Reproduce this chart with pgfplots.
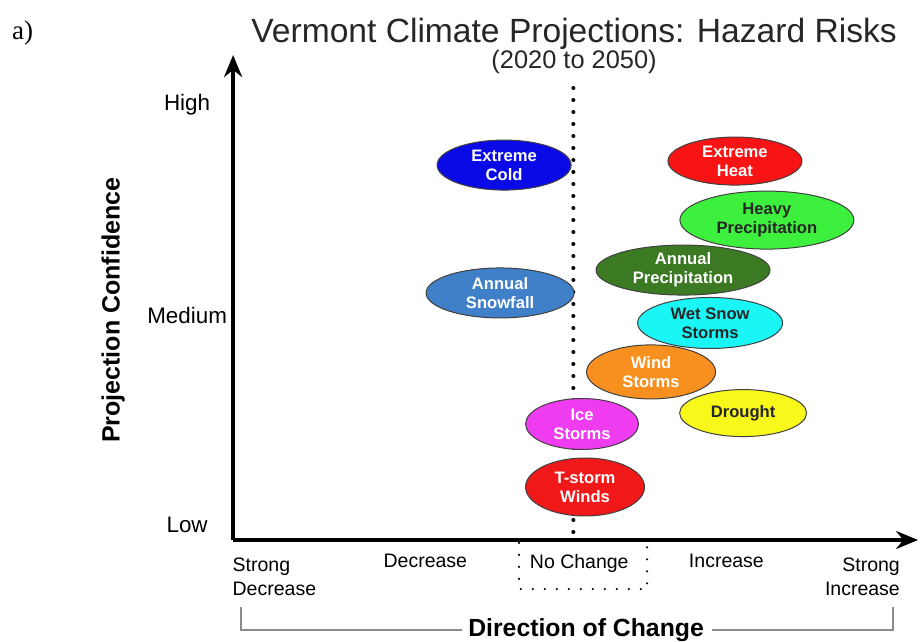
\documentclass[border=0pt]{standalone}
\usepackage{pgfplots}
\pgfplotsset{compat=1.18}
\usepackage{fontspec}
\setmainfont{Liberation Sans}
\newfontfamily\timesfont{Liberation Serif}
\usetikzlibrary{shapes.geometric,arrows.meta}

\definecolor{cold}{HTML}{0A0AE6}
\definecolor{heat}{HTML}{F81414}
\definecolor{heavy}{HTML}{3EF03E}
\definecolor{annprecip}{HTML}{3B7A23}
\definecolor{snowfall}{HTML}{3F80C8}
\definecolor{wetsnow}{HTML}{1AF5F5}
\definecolor{wind}{HTML}{F7901E}
\definecolor{drought}{HTML}{F8F81A}
\definecolor{ice}{HTML}{F03CF0}
\definecolor{tstorm}{HTML}{F01818}

% one hazard: x, y, width, height, fill, text colour, label
\newcommand{\hazard}[7]{%
  \addplot[only marks, mark=none,
    nodes near coords={#7},
    every node near coord/.append style={ellipse, draw=black!75, line width=0.5pt,
      fill=#5, text=#6, minimum width=#3, minimum height=#4, inner sep=0pt,
      align=center, anchor=center, font=\fontsize{8.3}{9.5}\selectfont\bfseries}]
    coordinates {(#1,#2)};}

\begin{document}
\begin{tikzpicture}
\begin{axis}[
  scale only axis,
  x=74pt, y=105pt,
  xmin=-0.299, xmax=4.329, ymin=-0.0714, ymax=2.238,
  clip=false,
  axis lines=left,
  axis line style={line width=1.8pt, -{Stealth[length=11pt,width=9pt]}},
  major tick length=0pt,
  tick style={draw=none},
  xtick={-0.02,1,2.04,3.034,3.953},
  xticklabels={{\begin{tabular}{@{}l@{}}Strong\\Decrease\end{tabular}},Decrease,No Change,Increase,{\begin{tabular}{@{}r@{}}Strong\\Increase\end{tabular}}},
  xticklabel style={anchor=north, inner sep=0pt, yshift=-7pt, font=\fontsize{9.75}{12}\selectfont},
  ytick={0,1,2},
  yticklabels={Low,Medium,High},
  yticklabel style={anchor=center, inner sep=0pt, xshift=-23pt, font=\fontsize{11.2}{13}\selectfont},
  ylabel={Projection Confidence},
  ylabel style={at={(rel axis cs:-0.175,0.474)}, anchor=center, font=\fontsize{12.5}{14}\selectfont\bfseries},
]
% no-change line and box
\draw[line width=2pt, dash pattern=on 0pt off 6pt, line cap=round] (axis cs:2,2.081) -- (axis cs:2,-0.0714);
\draw[line width=1.2pt, dash pattern=on 0pt off 6pt, line cap=round]
  (axis cs:1.633,-0.085) -- (axis cs:1.633,-0.305) -- (axis cs:2.498,-0.305) -- (axis cs:2.498,-0.085);

\hazard{1.532}{1.714}{67pt}{25pt}{cold}{white}{Extreme\\Cold}
\hazard{3.092}{1.733}{67pt}{24pt}{heat}{white}{Extreme\\Heat}
\hazard{3.308}{1.452}{87pt}{29pt}{heavy}{black!85}{Heavy\\Precipitation}
\hazard{2.741}{1.214}{87pt}{25pt}{annprecip}{white}{Annual\\Precipitation}
\hazard{1.505}{1.105}{74pt}{25pt}{snowfall}{white}{Annual\\Snowfall}
\hazard{2.924}{0.962}{72.5pt}{25.5pt}{wetsnow}{black!85}{Wet Snow\\Storms}
\hazard{2.525}{0.729}{64.5pt}{27pt}{wind}{white}{Wind\\Storms}
\hazard{3.147}{0.533}{63.5pt}{23.5pt}{drought}{black!85}{Drought}
\hazard{2.059}{0.481}{56.5pt}{25.5pt}{ice}{white}{Ice\\Storms}
\hazard{2.079}{0.181}{59.5pt}{29pt}{tstorm}{white}{T-storm\\Winds}

% x label with bracket
\draw[black!45, line width=0.6pt] (axis cs:-0.245,-0.39) |- (axis cs:1.249,-0.5);
\draw[black!45, line width=0.6pt] (axis cs:2.937,-0.5) -| (axis cs:4.16,-0.39);
\node[font=\fontsize{12.4}{14}\selectfont\bfseries] at (axis cs:2.086,-0.5) {Direction of Change};

% titles
\node[anchor=base, font=\fontsize{16.8}{19}\selectfont, text=black!85] at (axis cs:2.005,2.3) {Vermont Climate Projections: Hazard Risks};
\node[anchor=base, font=\fontsize{12.7}{14}\selectfont, text=black!85] at (axis cs:2.005,2.176) {(2020 to 2050)};
\node[anchor=base west, inner sep=0pt, font=\timesfont\fontsize{13.5}{15}\selectfont] at (axis cs:-1.795,2.31) {a)};

\coordinate (bbA) at (axis cs:-1.874,2.5);
\coordinate (bbB) at (axis cs:4.349,-0.557);
\end{axis}
\pgfresetboundingbox
\path (bbA) rectangle (bbB);
\end{tikzpicture}
\end{document}
